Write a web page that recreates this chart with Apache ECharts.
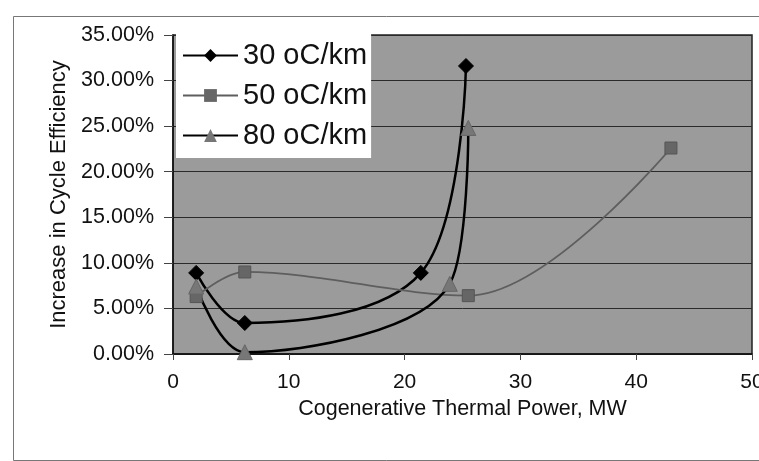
<!DOCTYPE html>
<html>
<head>
<meta charset="utf-8">
<script src="https://cdn.jsdelivr.net/npm/echarts@6/dist/echarts.min.js"></script>
<style>
html,body{margin:0;padding:0;background:#fff;}
#chart{width:759px;height:461px;}
</style>
</head>
<body>
<div id="chart"></div>
<script>
// Data (x: cogenerative thermal power MW, y: increase in cycle efficiency %)
const seriesNames = ['30 oC/km', '50 oC/km', '80 oC/km'];
const x30 = [2.0, 6.2, 21.4, 25.3];
const y30 = [8.9, 3.4, 8.9, 31.6];
const x50 = [2.0, 6.2, 25.5, 43.0];
const y50 = [6.3, 9.0, 6.4, 22.6];
const x80 = [2.0, 6.2, 23.9, 25.5];
const y80 = [7.4, 0.2, 7.7, 24.8];
const xTicks = [0, 10, 20, 30, 40, 50];
const yTicks = [0, 5, 10, 15, 20, 25, 30, 35];

const pairs = (xs, ys) => xs.map((v, i) => [v, ys[i]]);
const font = 'Liberation Sans, Arial, sans-serif';

const chart = echarts.init(document.getElementById('chart'), null, {renderer: 'canvas'});
chart.setOption({
  animation: false,
  backgroundColor: '#ffffff',
  textStyle: {fontFamily: font},
  graphic: [{
    type: 'rect', left: 11, top: 14, z: -10,
    shape: {width: 760, height: 444},
    style: {fill: 'none', stroke: '#777', lineWidth: 1}
  }],
  grid: {
    left: 173, right: 7, top: 35, bottom: 107,
    containLabel: false, outerBoundsMode: 'none',
    show: true, backgroundColor: '#9b9b9b', borderColor: '#222', borderWidth: 1.5
  },
  legend: {
    left: 176, top: 33, orient: 'vertical',
    backgroundColor: '#ffffff',
    padding: [8, 4, 8, 6],
    itemWidth: 55, itemHeight: 16, itemGap: 11,
    textStyle: {fontSize: 29, color: '#111', fontFamily: font, lineHeight: 29},
    data: seriesNames
  },
  xAxis: {
    type: 'value', min: xTicks[0], max: xTicks[xTicks.length - 1], interval: 10,
    name: 'Cogenerative Thermal Power, MW', nameLocation: 'middle', nameGap: 42,
    nameTextStyle: {fontSize: 21.5, color: '#111', fontFamily: font},
    axisLine: {show: true, lineStyle: {color: '#111', width: 1.5}},
    axisTick: {show: true, length: 6, lineStyle: {color: '#444'}},
    axisLabel: {fontSize: 21, color: '#111', margin: 18, fontFamily: font},
    splitLine: {show: false}
  },
  yAxis: {
    type: 'value', min: yTicks[0], max: yTicks[yTicks.length - 1], interval: 5,
    name: 'Increase in Cycle Efficiency', nameLocation: 'middle', nameGap: 100,
    nameTextStyle: {fontSize: 22, color: '#111', fontFamily: font},
    axisLine: {show: true, lineStyle: {color: '#111', width: 1.5}},
    axisTick: {show: true, length: 9, lineStyle: {color: '#444'}},
    axisLabel: {fontSize: 21.5, color: '#111', margin: 19, fontFamily: font,
      formatter: v => v.toFixed(2) + '%'},
    splitLine: {show: true, lineStyle: {color: '#2a2a2a', width: 1}}
  },
  series: [
    {
      name: seriesNames[0], type: 'line', smooth: 0.35,
      data: pairs(x30, y30),
      symbol: 'diamond', symbolSize: 15,
      lineStyle: {color: '#000', width: 2.5},
      itemStyle: {color: '#000', borderColor: '#000'}
    },
    {
      name: seriesNames[1], type: 'line', smooth: 0.35,
      data: pairs(x50, y50),
      symbol: 'rect', symbolSize: 12,
      lineStyle: {color: '#5e5e5e', width: 1.8},
      itemStyle: {color: '#666', borderColor: '#555'}
    },
    {
      name: seriesNames[2], type: 'line', smooth: 0.35,
      data: pairs(x80, y80),
      symbol: 'triangle', symbolSize: 15,
      lineStyle: {color: '#000', width: 2.5},
      itemStyle: {color: '#777', borderColor: '#666'}
    }
  ]
});
</script>
</body>
</html>
